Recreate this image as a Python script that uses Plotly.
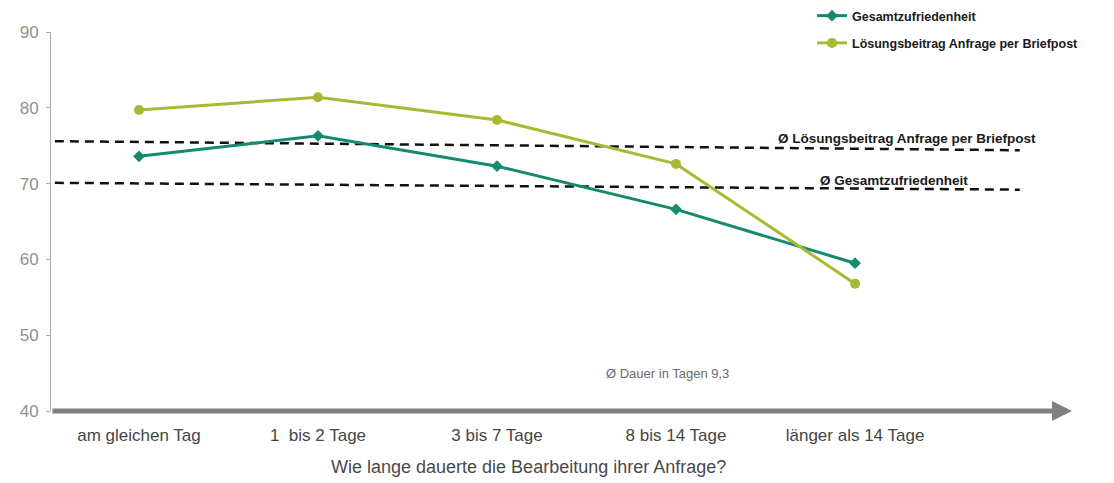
import plotly.graph_objects as go

categories = ["am gleichen Tag", "1  bis 2 Tage", "3 bis 7 Tage", "8 bis 14 Tage", "länger als 14 Tage"]
gesamt = [73.6, 76.3, 72.3, 66.6, 59.5]
loesung = [79.7, 81.4, 78.4, 72.6, 56.8]
series_names = ["Gesamtzufriedenheit", "Lösungsbeitrag Anfrage per Briefpost"]
avg_loesung = [75.6, 74.4]   # dashed line, left end / right end (as drawn)
avg_gesamt = [70.1, 69.2]
avg_labels = ["Ø Lösungsbeitrag Anfrage per Briefpost", "Ø Gesamtzufriedenheit"]
y_ticks = [40, 50, 60, 70, 80, 90]
x_title = "Wie lange dauerte die Bearbeitung ihrer Anfrage?"
note = "Ø Dauer in Tagen 9,3"

GREEN = "#168a6c"
OLIVE = "#a9b935"
FONT = "Liberation Sans, Arial, sans-serif"

W, H = 1114, 483
ML, MR, MT, MB = 51, 42, 32, 72
PW = W - ML - MR
PH = H - MT - MB

xi = list(range(len(categories)))
x_min, x_max = -0.4916, 5.212
dash_x = [-0.47, 4.92]

fig = go.Figure()
fig.add_trace(go.Scatter(x=dash_x, y=avg_loesung, mode="lines", showlegend=False,
                         line=dict(color="#111111", width=2.5, dash="9px,6px"), hoverinfo="skip"))
fig.add_trace(go.Scatter(x=dash_x, y=avg_gesamt, mode="lines", showlegend=False,
                         line=dict(color="#111111", width=2.5, dash="9px,6px"), hoverinfo="skip"))
fig.add_trace(go.Scatter(x=xi, y=gesamt, name=series_names[0], mode="lines+markers",
                         legendgroup="a",
                         line=dict(color=GREEN, width=3),
                         marker=dict(symbol="diamond", size=9, color=GREEN)))
fig.add_trace(go.Scatter(x=xi, y=loesung, name=series_names[1], mode="lines+markers",
                         legendgroup="b",
                         line=dict(color=OLIVE, width=3),
                         marker=dict(symbol="circle", size=10, color=OLIVE)))

# x axis arrow
fig.add_annotation(x=x_max, y=40, ax=x_min, ay=40, xref="x", yref="y", axref="x", ayref="y",
                   text="", showarrow=True, arrowhead=2, arrowsize=0.8, arrowwidth=5,
                   arrowcolor="#808080")

fig.add_annotation(x=(1038 - ML) / PW, y=avg_loesung[1], xref="paper", yref="y", text=avg_labels[0],
                   showarrow=False, xanchor="right", yanchor="middle", yshift=12,
                   font=dict(family=FONT, size=13.5, color="#1a1a1a", weight="bold"))
fig.add_annotation(x=(970 - ML) / PW, y=avg_gesamt[1], xref="paper", yref="y", text=avg_labels[1],
                   showarrow=False, xanchor="right", yanchor="middle", yshift=9,
                   font=dict(family=FONT, size=13.5, color="#1a1a1a", weight="bold"))
fig.add_annotation(x=2.6, y=45.0, xref="x", yref="y", text=note, showarrow=False,
                   xanchor="left", yanchor="middle",
                   font=dict(family=FONT, size=13, color="#6a6a6a"))
fig.add_annotation(x=(528 - ML) / PW, y=-(467 - MT - PH) / PH, xref="paper", yref="paper",
                   text=x_title, showarrow=False, xanchor="center", yanchor="middle",
                   font=dict(family=FONT, size=18, color="#4a4a4a"))

fig.update_layout(
    width=W, height=H,
    margin=dict(l=ML, r=MR, t=MT, b=MB, autoexpand=False),
    paper_bgcolor="white", plot_bgcolor="white",
    font=dict(family=FONT),
    showlegend=True,
    legend=dict(x=(812 - ML) / PW, y=1 + (MT - 1) / PH, xanchor="left", yanchor="top",
                xref="paper", yref="paper",
                traceorder="grouped", tracegroupgap=8, itemwidth=30,
                font=dict(family=FONT, size=12.5, color="#1a1a1a", weight="bold"),
                bgcolor="rgba(0,0,0,0)"),
    xaxis=dict(range=[x_min, x_max], tickmode="array", tickvals=xi, ticktext=categories,
               showgrid=False, zeroline=False, showline=False, ticks="",
               ticklabelstandoff=12,
               tickfont=dict(family=FONT, size=17, color="#454545")),
    yaxis=dict(range=[40, 90], tickmode="array", tickvals=y_ticks, showgrid=False,
               zeroline=False, showline=True, linecolor="#b0b0b0", linewidth=1,
               ticks="outside", ticklen=4, tickcolor="#b0b0b0", ticklabelstandoff=4,
               tickfont=dict(family=FONT, size=17, color="#909090")),
)

fig.write_html("out.html")
